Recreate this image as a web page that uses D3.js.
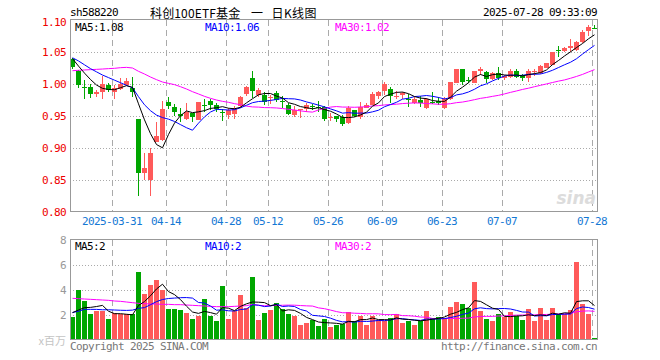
<!DOCTYPE html>
<html><head><meta charset="utf-8">
<script src="https://cdn.jsdelivr.net/npm/d3@7"></script>
<style>
html,body{margin:0;padding:0;background:#fff;}
svg{display:block;}
.mono{font-family:"DejaVu Sans Mono",monospace;font-size:11px;letter-spacing:-0.62px;}
</style></head><body>
<svg id="chart" width="660" height="360"></svg>
<script>
// ---------------- DATA ----------------
const dates = ["03-20","03-21","03-24","03-25","03-26","03-27","03-28","03-31",
"04-01","04-02","04-03","04-07","04-08","04-09","04-10","04-11","04-14","04-15","04-16","04-17","04-18","04-21","04-22","04-23","04-24","04-25","04-28","04-29","04-30",
"05-06","05-07","05-08","05-09","05-12","05-13","05-14","05-15","05-16","05-19","05-20","05-21","05-22","05-23","05-26","05-27","05-28","05-29","05-30",
"06-03","06-04","06-05","06-06","06-09","06-10","06-11","06-12","06-13","06-16","06-17","06-18","06-19","06-20","06-23","06-24","06-25","06-26","06-27","06-30",
"07-01","07-02","07-03","07-04","07-07","07-08","07-09","07-10","07-11","07-14","07-15","07-16","07-17","07-18","07-21","07-22","07-23","07-24","07-25","07-28"];

const openP = [1.039,1.021,0.996,0.995,0.984,0.988,0.999,0.988,0.992,0.999,
0.993,0.946,0.861,0.850,0.910,0.912,0.972,0.9646,0.9536,0.946,
0.9547,0.944,0.967,0.9734,0.967,0.957,0.952,0.9536,0.965,0.984,
1.010,0.983,0.9833,0.978,0.9864,0.974,0.967,0.952,0.959,0.961,
0.9650,0.9635,0.9635,0.9474,0.9505,0.949,0.9396,0.959,0.949,0.9625,
0.967,0.981,0.9896,0.992,0.9797,0.9823,0.9766,0.9698,0.9755,0.9625,
0.972,0.974,0.9625,0.977,1.001,1.0234,1.0055,1.001,1.0208,1.019,
1.008,1.0175,1.009,1.0115,1.0203,1.014,1.0089,1.019,1.0167,1.0245,
1.0297,1.053,1.0516,1.0557,1.0531,1.0661,1.0828,1.0875];

const highP = [1.041,1.022,1.007,1.000,0.991,1.013,1.002,0.999,1.009,1.009,
1.011,0.946,0.892,0.900,0.941,0.974,0.980,0.968,0.963,0.970,
0.955,0.972,0.976,0.977,0.970,0.961,0.963,0.965,0.982,0.997,
1.021,0.993,0.988,0.983,0.989,0.982,0.970,0.966,0.961,0.970,
0.969,0.973,0.966,0.954,0.9505,0.951,0.965,0.960,0.972,0.971,
0.987,0.989,1.0026,0.9948,0.9896,0.988,0.9844,0.980,0.981,0.978,
0.988,0.979,0.980,1.003,1.0234,1.0234,1.011,1.021,1.026,1.021,
1.018,1.027,1.0135,1.023,1.023,1.015,1.023,1.024,1.0297,1.0335,
1.0505,1.060,1.0583,1.0708,1.0672,1.0844,1.0922,1.092];

const lowP = [1.024,0.994,0.976,0.978,0.980,0.977,0.988,0.976,0.991,0.997,
0.980,0.8245,0.850,0.8245,0.910,0.911,0.9615,0.950,0.941,0.944,
0.941,0.943,0.956,0.960,0.957,0.942,0.945,0.945,0.962,0.982,
0.978,0.980,0.967,0.968,0.972,0.963,0.952,0.949,0.947,0.957,
0.960,0.957,0.942,0.942,0.940,0.934,0.938,0.949,0.945,0.962,
0.967,0.977,0.983,0.970,0.976,0.976,0.9635,0.969,0.9635,0.961,
0.969,0.967,0.961,0.975,1.001,0.999,1.001,1.001,1.014,1.001,
1.007,1.006,1.006,1.010,1.010,1.005,1.003,1.013,1.015,1.0245,
1.029,1.0427,1.050,1.0505,1.0516,1.0635,1.0755,1.0865];

const closeP = [1.026,0.999,0.995,0.984,0.988,1.000,0.990,0.993,1.000,1.004,
0.987,0.861,0.868,0.892,0.919,0.9615,0.965,0.957,0.9505,0.9557,
0.948,0.9714,0.9665,0.9677,0.961,0.9565,0.959,0.9625,0.979,0.9958,
0.9885,0.990,0.9724,0.979,0.9755,0.9735,0.9536,0.960,0.961,0.967,
0.9645,0.963,0.945,0.9478,0.9453,0.9375,0.962,0.950,0.9635,0.967,
0.984,0.988,0.9995,0.982,0.981,0.9865,0.9755,0.977,0.9698,0.977,
0.9714,0.970,0.976,1.003,1.0234,1.0026,1.005,1.0198,1.0234,1.008,
1.0167,1.0099,1.0125,1.0203,1.0115,1.0089,1.0203,1.0203,1.028,1.0323,
1.0505,1.0525,1.0557,1.060,1.0661,1.0818,1.0896,1.087];

// volume, millions
const volume = [1.87,4.0,3.12,2.08,2.32,2.32,1.68,2.13,2.08,2.08,
2.1,5.44,3.68,4.4,4.8,4.0,2.48,2.48,2.4,2.16,
1.68,1.92,3.28,1.92,1.52,4.32,1.68,2.32,3.6,2.56,
5.04,1.6,2.16,2.4,2.96,2.48,2.08,1.92,1.2,1.36,
1.6,1.12,1.68,1.07,1.2,1.28,2.24,1.52,1.92,1.2,
1.92,1.6,1.52,1.76,2.08,1.36,1.52,1.2,1.52,2.32,
1.76,1.84,1.76,2.64,3.04,2.88,2.56,4.64,2.32,1.68,
1.52,2.08,1.84,2.24,1.92,1.6,2.48,1.52,2.56,1.6,
2.56,2.08,2.08,2.4,6.24,2.88,2.08,0.16];

const ma5Head = [1.0396,1.028,1.017,1.007];
const ma10Head = [1.041,1.036,1.030,1.024,1.019,1.014,1.010,1.006,1.002];
const ma30Head = [1.0208,1.0214,1.0219,1.0224,1.0229,1.0234,1.0240,1.0245,1.0255,1.0260,
1.0250,1.0198,1.0156,1.0109,1.0068,1.0031,1.0010,0.9990,0.9958,0.9922,
0.9880,0.9844,0.9807,0.9776,0.9750,0.9729,0.9714,0.9693,0.9677];
const vma5Head = [2.19,2.4,2.59,2.61];
const vma10Head = [2.2,2.3,2.45,2.45,2.45,2.42,2.42,2.4,2.38];
const vma30Head = [3.333,3.307,3.28,3.253,3.227,3.2,3.173,3.12,3.093,3.04,
2.987,2.933,2.907,2.88,2.88,2.853,2.853,2.827,2.827,2.8,
2.773,2.747,2.72,2.693,2.667,2.667,2.667,2.693,2.72];

const tickDates = ["03-31","04-14","04-28","05-12","05-26","06-09","06-23","07-07","07-28"];
const tickLabels = ["2025-03-31","04-14","04-28","05-12","05-26","06-09","06-23","07-07","07-28"];
const priceTicks = [0.80,0.85,0.90,0.95,1.00,1.05,1.10];
const volTicks = [2,4,6,8];

const code = "sh588220";
const titleParts = ["科创100ETF基金 ", "一 ", "日K线图"];
const stamp = "2025-07-28 09:33:09";

// ---------------- DRAW ----------------
const RED = "#ff5a5a", GREEN = "#00a600", GRID = "#aaaaaa", BORDER = "#999999";
const svg = d3.select("#chart");
const L = 70, R = 597;
const x = d3.scaleBand().domain(dates).range([L, L + dates.length * 6]).padding(0);
const y = d3.scaleLinear().domain([0.80, 1.10]).range([212, 20]);
const yv = d3.scaleLinear().domain([0, 8]).range([340, 240]);

function ma(vals, n, head) {
  return vals.map((v, i) => i < n - 1 ? head[i] : d3.mean(vals.slice(i - n + 1, i + 1)));
}
const ma5 = ma(closeP, 5, ma5Head), ma10 = ma(closeP, 10, ma10Head), ma30 = ma(closeP, 30, ma30Head);
const vma5 = ma(volume, 5, vma5Head), vma10 = ma(volume, 10, vma10Head), vma30 = ma(volume, 30, vma30Head);

// grids
const grid = svg.append("g");
[0.85,0.90,0.95,1.00,1.05].forEach(v => {
  const yy = Math.round(y(v)) + 0.5;
  grid.append("line").attr("x1", L).attr("x2", R).attr("y1", yy).attr("y2", yy)
    .attr("stroke", GRID).attr("stroke-dasharray", "1,2");
});
[2,4,6].forEach(v => {
  const yy = Math.round(yv(v)) + 0.5;
  grid.append("line").attr("x1", L).attr("x2", R).attr("y1", yy).attr("y2", yy)
    .attr("stroke", GRID).attr("stroke-dasharray", "1,2");
});
tickDates.forEach(d => {
  const xx = x(d) + 0.5;
  [[20,212],[240,340]].forEach(([a,b]) => {
    grid.append("line").attr("x1", xx).attr("x2", xx).attr("y1", a).attr("y2", b)
      .attr("stroke", GRID).attr("stroke-dasharray", "6,4");
  });
});

// candles
const idx = d3.range(dates.length);
const cg = svg.append("g").attr("shape-rendering", "crispEdges");
cg.selectAll("rect.wick").data(idx).join("rect").attr("class","wick")
  .attr("x", i => x(dates[i]) + 2).attr("width", 1)
  .attr("y", i => y(highP[i])).attr("height", i => Math.max(1, y(lowP[i]) - y(highP[i])))
  .attr("fill", i => closeP[i] >= openP[i] ? RED : GREEN);
cg.selectAll("rect.body").data(idx).join("rect").attr("class","body")
  .attr("x", i => x(dates[i])).attr("width", 5)
  .attr("y", i => y(Math.max(openP[i], closeP[i])))
  .attr("height", i => Math.max(1, Math.abs(y(openP[i]) - y(closeP[i]))))
  .attr("fill", i => closeP[i] >= openP[i] ? RED : GREEN);

// volume bars
cg.selectAll("rect.vol").data(idx).join("rect").attr("class","vol")
  .attr("x", i => x(dates[i])).attr("width", 5)
  .attr("y", i => yv(volume[i])).attr("height", i => 340 - yv(volume[i]))
  .attr("fill", i => closeP[i] >= openP[i] ? RED : GREEN);

// MA lines
const cx = i => x(dates[i]) + 2.5;
const lineP = d3.line().x((d, i) => cx(i)).y(d => y(d));
const lineV = d3.line().x((d, i) => cx(i)).y(d => yv(d));
[[ma30,"#ff00ff"],[ma10,"#0000ff"],[ma5,"#000000"]].forEach(([s,c]) =>
  svg.append("path").attr("d", lineP(s)).attr("fill","none").attr("stroke",c).attr("stroke-width",1));
[[vma30,"#ff00ff"],[vma10,"#0000ff"],[vma5,"#000000"]].forEach(([s,c]) =>
  svg.append("path").attr("d", lineV(s)).attr("fill","none").attr("stroke",c).attr("stroke-width",1));

// borders
svg.append("rect").attr("x", L + 0.5).attr("y", 19.5).attr("width", R - L).attr("height", 192)
  .attr("fill","none").attr("stroke", BORDER);
svg.append("rect").attr("x", L + 0.5).attr("y", 239.5).attr("width", R - L).attr("height", 100)
  .attr("fill","none").attr("stroke", BORDER);

// axes
const ax = svg.append("g").attr("transform", `translate(${L},0)`)
  .call(d3.axisLeft(y).tickValues(priceTicks).tickFormat(d3.format(".2f")).tickSize(0).tickPadding(4));
ax.select(".domain").remove();
ax.attr("font-family", null).attr("font-size", null);
ax.selectAll("text").attr("class","mono").attr("fill","#ee0000").attr("dy", null)
  .attr("dominant-baseline","central")
  .attr("transform", d => d === 1.10 ? "translate(0,2)" : null);

const axv = svg.append("g").attr("transform", `translate(${L},0)`)
  .call(d3.axisLeft(yv).tickValues(volTicks).tickFormat(d3.format("d")).tickSize(0).tickPadding(4));
axv.select(".domain").remove();
axv.attr("font-family", null).attr("font-size", null);
axv.selectAll("text").attr("class","mono").attr("fill","#999999").attr("dy", null)
  .attr("dominant-baseline","central");

const axd = svg.append("g").attr("transform", `translate(-3,212)`)
  .call(d3.axisBottom(x).tickValues(tickDates).tickFormat(d => tickLabels[tickDates.indexOf(d)]).tickSize(0));
axd.select(".domain").remove();
axd.attr("font-family", null).attr("font-size", null);
axd.selectAll("text").attr("class","mono").attr("fill","#1478d4").attr("dy", null)
  .attr("y", 9).attr("dominant-baseline","central");

// texts
const T = (t, xx, yy, fill, anchor) => svg.append("text").attr("class","mono").attr("x", xx).attr("y", yy)
  .attr("fill", fill).attr("text-anchor", anchor || "start").attr("dominant-baseline","central").text(t);
T(code, 70, 12.5, "#000");
const tt = svg.append("text").attr("y", 12).attr("dominant-baseline","central")
  .attr("font-family", '"Noto Sans CJK SC", sans-serif').attr("font-size", 12).attr("fill","#000")
  .attr("xml:space","preserve");
tt.append("tspan").attr("x", 150).attr("textLength", 93).attr("lengthAdjust","spacing").text(titleParts[0]);
tt.append("tspan").attr("x", 251).text(titleParts[1]);
tt.append("tspan").attr("x", 271.5).attr("textLength", 45).attr("lengthAdjust","spacing").text(titleParts[2]);
T(stamp, 597, 12.5, "#000", "end");

const last = dates.length - 1;
const f2 = d3.format(".2f");
T("MA5:" + f2(ma5[last]), 75, 27, "#000");
T("MA10:" + f2(ma10[last]), 205, 27, "#0000ff");
T("MA30:" + f2(ma30[last]), 335, 27, "#ff00ff");
T("MA5:" + Math.floor(vma5[last]), 75, 246, "#000");
T("MA10:" + Math.floor(vma10[last]), 205, 246, "#0000ff");
T("MA30:" + Math.floor(vma30[last]), 335, 246, "#ff00ff");

svg.append("text").attr("x", 66).attr("y", 340).attr("text-anchor","end").attr("dominant-baseline","central")
  .attr("font-family", '"Noto Sans CJK SC", sans-serif').attr("font-size", 11).attr("fill","#c4c4c4").text("x百万");
T("Copyright 2025 SINA.COM", 70, 346, "#777");
T("http://finance.sina.com.cn", 597, 346, "#777", "end");

svg.append("text").attr("x", 596).attr("y", 204).attr("text-anchor","end")
  .attr("font-family", '"DejaVu Sans", sans-serif').attr("font-size", 17).attr("font-weight","bold")
  .attr("font-style","italic").attr("fill","#dcdcdc").text("sina");
</script>
</body></html>
